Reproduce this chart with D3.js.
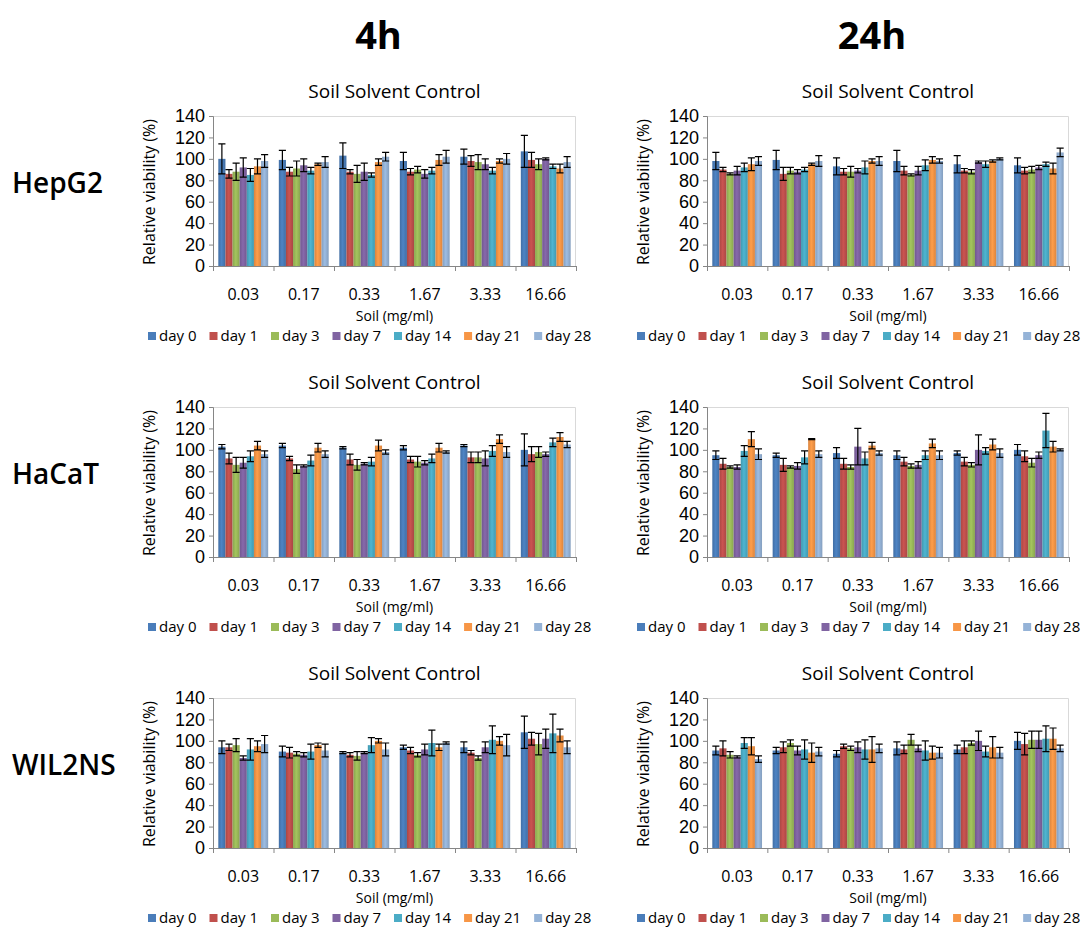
<!DOCTYPE html>
<html>
<head>
<meta charset="utf-8">
<script src="https://cdn.jsdelivr.net/npm/d3@7"></script>
<style>
body { margin: 0; background: #fff; }
text { font-family: "Open Sans", sans-serif; }
</style>
</head>
<body>
<div id="chart"></div>
<script>
const concentrations = ["0.03", "0.17", "0.33", "1.67", "3.33", "16.66"];
const days = ["day 0", "day 1", "day 3", "day 7", "day 14", "day 21", "day 28"];
const timepoints = ["4h", "24h"];
const cellLines = ["HepG2", "HaCaT", "WIL2NS"];
const yTicks = [0, 20, 40, 60, 80, 100, 120, 140];

// rows = concentration, columns = day
const hepg2_4h = [
    [100, 86, 88, 92, 85, 93, 98],
    [99, 88, 91, 94, 89, 95, 97],
    [103, 88, 86, 88, 85, 97, 102],
    [98, 88, 90, 86, 89, 99, 102],
    [102, 98, 97, 95, 89, 98, 100],
    [107, 99, 95, 100, 93, 91, 97]
];
const hepg2_4h_err = [
    [14, 4, 8, 9, 6, 7, 6],
    [9, 4, 7, 6, 3, 1, 5],
    [12, 2, 8, 8, 2, 3, 4],
    [8, 3, 3, 4, 3, 5, 6],
    [7, 5, 7, 5, 3, 2, 5],
    [15, 7, 5, 1, 2, 4, 5]
];
const hepg2_24h = [
    [98, 90, 86, 89, 92, 95, 98],
    [99, 86, 89, 88, 90, 95, 98],
    [93, 88, 88, 89, 92, 98, 98],
    [98, 89, 85, 89, 94, 99, 98],
    [95, 89, 88, 97, 95, 98, 100],
    [94, 89, 90, 92, 95, 91, 106]
];
const hepg2_24h_err = [
    [8, 2, 1, 4, 4, 6, 4],
    [9, 6, 3, 2, 2, 1, 5],
    [8, 3, 5, 2, 6, 2, 4],
    [10, 4, 1, 4, 5, 3, 2],
    [8, 2, 2, 1, 3, 1, 1],
    [7, 3, 3, 2, 2, 5, 4]
];
const hacat_4h = [
    [103, 92, 86, 88, 94, 104, 96],
    [104, 92, 82, 85, 90, 102, 96],
    [102, 91, 86, 87, 89, 104, 98],
    [102, 91, 89, 88, 92, 102, 98],
    [104, 93, 93, 92, 99, 110, 98],
    [100, 96, 98, 96, 107, 112, 105]
];
const hacat_4h_err = [
    [2, 5, 7, 5, 5, 4, 3],
    [2, 2, 4, 1, 5, 4, 3],
    [1, 5, 5, 1, 4, 5, 2],
    [2, 3, 5, 2, 4, 4, 1],
    [1, 5, 5, 7, 5, 4, 5],
    [15, 7, 5, 2, 4, 4, 3]
];
const hacat_24h = [
    [95, 87, 84, 84, 99, 110, 96],
    [95, 86, 84, 85, 93, 110, 96],
    [97, 87, 84, 103, 92, 104, 97],
    [95, 89, 85, 86, 95, 106, 95],
    [97, 89, 86, 100, 99, 105, 97],
    [100, 94, 88, 95, 118, 103, 100]
];
const hacat_24h_err = [
    [4, 5, 1, 2, 5, 7, 5],
    [2, 6, 1, 3, 6, 0.5, 3],
    [5, 5, 2, 17, 6, 3, 2],
    [4, 4, 2, 3, 4, 4, 4],
    [2, 4, 2, 14, 3, 5, 4],
    [5, 5, 4, 3, 16, 5, 1]
];
const wil2ns_4h = [
    [94, 94, 96, 84, 92, 95, 97],
    [90, 89, 88, 87, 90, 96, 91],
    [89, 87, 86, 89, 96, 100, 92],
    [94, 91, 87, 92, 98, 94, 98],
    [94, 89, 84, 94, 101, 100, 96],
    [108, 102, 97, 102, 107, 105, 94]
];
const wil2ns_4h_err = [
    [6, 3, 6, 2, 10, 5, 8],
    [5, 5, 2, 2, 7, 2, 6],
    [1, 2, 4, 1, 7, 2, 6],
    [2, 3, 2, 5, 12, 3, 1],
    [5, 2, 2, 5, 13, 4, 10],
    [15, 6, 10, 9, 18, 6, 6]
];
const wil2ns_24h = [
    [91, 93, 87, 85, 98, 95, 83],
    [91, 94, 98, 91, 92, 89, 90],
    [88, 95, 93, 94, 92, 92, 93],
    [93, 92, 101, 93, 91, 89, 89],
    [92, 94, 98, 100, 90, 94, 89],
    [100, 97, 101, 101, 102, 102, 93]
];
const wil2ns_24h_err = [
    [4, 7, 3, 1, 5, 8, 3],
    [3, 5, 3, 4, 9, 9, 4],
    [3, 2, 2, 5, 9, 12, 4],
    [6, 4, 5, 3, 9, 6, 5],
    [4, 6, 2, 9, 5, 10, 5],
    [8, 10, 8, 8, 12, 10, 3]
];

const dayColors = ["#4A7DBA", "#C0504D", "#9BBB59", "#8064A2", "#4BACC6", "#F79646", "#95B3D7"];

const panels = [
    { row: 0, col: 0, means: hepg2_4h, errs: hepg2_4h_err },
    { row: 0, col: 1, means: hepg2_24h, errs: hepg2_24h_err },
    { row: 1, col: 0, means: hacat_4h, errs: hacat_4h_err },
    { row: 1, col: 1, means: hacat_24h, errs: hacat_24h_err },
    { row: 2, col: 0, means: wil2ns_4h, errs: wil2ns_4h_err },
    { row: 2, col: 1, means: wil2ns_24h, errs: wil2ns_24h_err }
];

const W = 1089, H = 928;
const colLeft = [213, 707], colWidth = [363, 362];
const legendLeft = [148, 637];
const rowTop = [116, 407, 698], plotH = 150;

const svg = d3.select("#chart").append("svg")
    .attr("width", W)
    .attr("height", H);

// soft shading on bars, like the office chart style
const defs = svg.append("defs");
dayColors.forEach((c, i) => {
    const g = defs.append("linearGradient")
        .attr("id", "grad" + i)
        .attr("x1", "0%").attr("x2", "100%").attr("y1", "0%").attr("y2", "0%");
    g.append("stop").attr("offset", "0%").attr("stop-color", d3.color(c).darker(0.35));
    g.append("stop").attr("offset", "45%").attr("stop-color", d3.color(c).brighter(0.15));
    g.append("stop").attr("offset", "100%").attr("stop-color", d3.color(c).darker(0.35));
});

// column headers
svg.selectAll(".header")
    .data(timepoints)
    .enter().append("text")
    .attr("class", "header")
    .attr("x", (d, i) => colLeft[i] + colWidth[i] / 2 - 16)
    .attr("y", 49)
    .attr("text-anchor", "middle")
    .style("font-size", "38px")
    .style("font-weight", "bold")
    .text(d => d);

// row labels
svg.selectAll(".rowlabel")
    .data(cellLines)
    .enter().append("text")
    .attr("class", "rowlabel")
    .attr("x", 12)
    .attr("y", (d, i) => rowTop[i] + 77)
    .style("font-size", "28px")
    .style("font-weight", "600")
    .text(d => d);

panels.forEach(p => {
    const left = colLeft[p.col], top = rowTop[p.row], w = colWidth[p.col];
    const g = svg.append("g").attr("transform", `translate(${left}, ${top})`);

    const x0 = d3.scaleBand().domain(concentrations).range([0, w]);
    const bw = x0.bandwidth();
    const x1 = d3.scaleBand().domain(days).range([bw * 0.088, bw * 0.912]);
    const y = d3.scaleLinear().domain([0, 140]).range([plotH, 0]);

    // plot frame (top and right)
    g.append("path")
        .attr("d", `M0,0.5H${w - 0.5}V${plotH}`)
        .attr("fill", "none")
        .attr("stroke", "#D9D9D9");

    // bars
    const groups = g.selectAll(".conc")
        .data(p.means)
        .enter().append("g")
        .attr("transform", (d, i) => `translate(${x0(concentrations[i])}, 0)`);

    groups.selectAll("rect")
        .data(d => d)
        .enter().append("rect")
        .attr("x", (d, i) => x1(days[i]))
        .attr("width", x1.bandwidth())
        .attr("y", d => y(d))
        .attr("height", d => plotH - y(d))
        .attr("fill", (d, i) => `url(#grad${i})`);

    // error bars
    const errG = g.selectAll(".err")
        .data(p.errs)
        .enter().append("g")
        .attr("transform", (d, i) => `translate(${x0(concentrations[i])}, 0)`);

    errG.each(function (errRow, ci) {
        const eg = d3.select(this);
        errRow.forEach((e, di) => {
            const m = p.means[ci][di];
            const cx = x1(days[di]) + x1.bandwidth() / 2;
            const half = x1.bandwidth() / 2;
            const path = `M${cx},${y(m + e)}V${y(m - e)}` +
                `M${cx - half},${y(m + e)}H${cx + half}` +
                `M${cx - half},${y(m - e)}H${cx + half}`;
            eg.append("path")
                .attr("d", path)
                .attr("fill", "none")
                .attr("stroke", "#000")
                .attr("stroke-width", 1.2);
        });
    });

    // y axis
    const yAxis = g.append("g")
        .call(d3.axisLeft(y).tickValues(yTicks).tickSize(4).tickPadding(4));
    yAxis.select(".domain").attr("stroke", "#868686");
    yAxis.selectAll(".tick line").attr("stroke", "#868686");
    yAxis.selectAll(".tick text")
        .style("font-family", "'Liberation Sans', sans-serif")
        .style("font-size", "18px")
        .attr("fill", "#000");

    // x axis with ticks between categories
    const xAxis = g.append("g")
        .attr("transform", `translate(0, ${plotH})`)
        .call(d3.axisBottom(x0).tickSize(0).tickPadding(23));
    xAxis.select(".domain").attr("stroke", "#868686");
    xAxis.selectAll(".tick text")
        .style("font-family", "'Open Sans', sans-serif")
        .style("font-size", "16px")
        .attr("fill", "#000");
    g.append("g")
        .selectAll("line")
        .data(d3.range(concentrations.length + 1))
        .enter().append("line")
        .attr("x1", i => i * bw + 0.5)
        .attr("x2", i => i * bw + 0.5)
        .attr("y1", plotH)
        .attr("y2", plotH + 5)
        .attr("stroke", "#868686");

    // titles
    g.append("text")
        .attr("x", w / 2)
        .attr("y", -18)
        .attr("text-anchor", "middle")
        .style("font-size", "19px")
        .text("Soil Solvent Control");

    g.append("text")
        .attr("x", w / 2)
        .attr("y", plotH + 55)
        .attr("text-anchor", "middle")
        .style("font-size", "14px")
        .text("Soil (mg/ml)");

    g.append("text")
        .attr("transform", `translate(-58, ${plotH / 2 + 1}) rotate(-90)`)
        .attr("text-anchor", "middle")
        .style("font-size", "16px")
        .text("Relative viability (%)");

    // legend
    const legend = g.append("g")
        .attr("transform", `translate(${legendLeft[p.col] - left}, ${plotH + 75})`);
    let lx = 0;
    days.forEach((d, i) => {
        const item = legend.append("g").attr("transform", `translate(${lx}, 0)`);
        item.append("rect")
            .attr("x", 0)
            .attr("y", -9)
            .attr("width", 8)
            .attr("height", 8)
            .attr("fill", dayColors[i]);
        const t = item.append("text")
            .attr("x", 11)
            .attr("y", 0)
            .style("font-size", "15px")
            .text(d);
        lx += 11 + t.node().getComputedTextLength() + 13;
    });
});
</script>
</body>
</html>
